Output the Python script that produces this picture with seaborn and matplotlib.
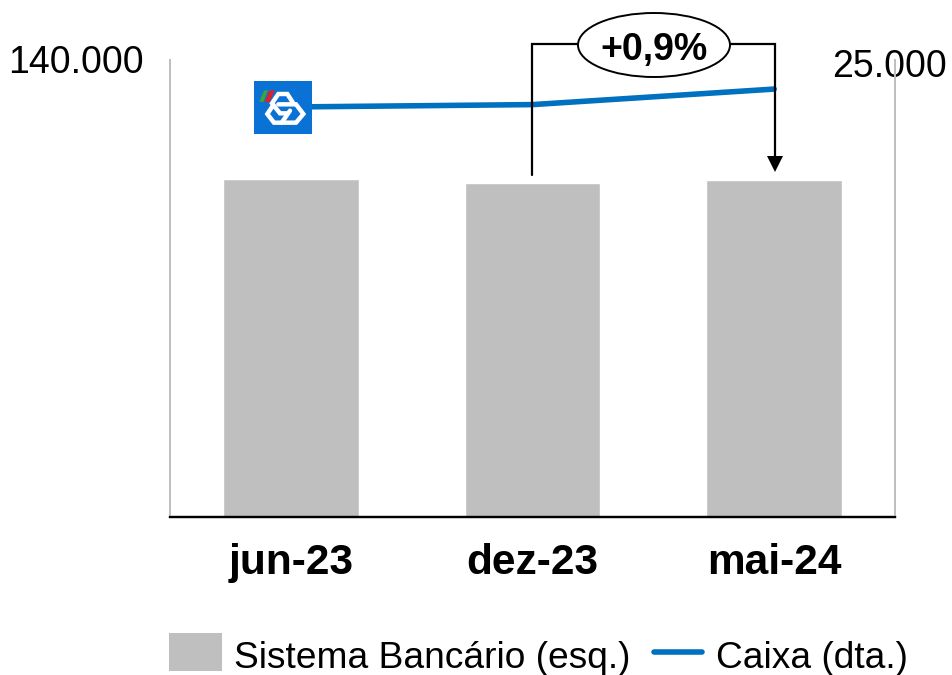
import numpy as np
import pandas as pd
import matplotlib
matplotlib.use('Agg')
import matplotlib.pyplot as plt
from matplotlib.lines import Line2D
from matplotlib.patches import Patch, Rectangle, Ellipse, Polygon
from matplotlib.transforms import Affine2D
import seaborn as sns

categories = ['jun-23', 'dez-23', 'mai-24']
sistema = [103600, 102400, 103200]
caixa = [22430, 22560, 23410]
left_ticks = [140000]
right_ticks = [25000]
left_labels = ['140.000']
right_labels = ['25.000']

W, H = 953, 675
GREY = '#BFBFBF'
BLUE = '#0070C0'

sns.set_style('white')
plt.rcParams['font.family'] = ['Liberation Sans', 'DejaVu Sans']
plt.rcParams['text.color'] = 'black'
plt.rcParams['xtick.color'] = 'black'
plt.rcParams['ytick.color'] = 'black'

fig = plt.figure(figsize=(W / 100, H / 100), dpi=100)
ax = fig.add_axes([170 / W, (H - 517) / H, 725 / W, 457 / H])

df = pd.DataFrame({'cat': categories, 'sistema': sistema})
sns.barplot(data=df, x='cat', y='sistema', color=GREY, saturation=1, width=0.56, ax=ax, zorder=2)
ax.set_xlim(-0.5, 2.5)
ax.set_ylim(0, 140000)
ax.set_xlabel('')
ax.set_ylabel('')
ax.set_yticks(left_ticks)
ax.set_yticklabels(left_labels, fontsize=27)
ax.tick_params(axis='y', length=0, pad=19, labelcolor='black')
ax.tick_params(axis='x', length=0, pad=19, labelcolor='black')
for lab in ax.get_xticklabels():
    lab.set_fontsize(30.5)
    lab.set_fontweight('bold')
for lab in ax.get_yticklabels():
    lab.set_transform(lab.get_transform() + Affine2D().translate(0, 1))

ax2 = ax.twinx()
ax2.set_ylim(0, 25000)
sns.lineplot(x=np.arange(len(categories)), y=caixa, color=BLUE, linewidth=4, ax=ax2,
             solid_capstyle='round', errorbar=None)
ax2.set_xlim(-0.5, 2.5)
ax2.set_ylabel('')
ax2.set_yticks(right_ticks)
ax2.set_yticklabels(right_labels, fontsize=27, va='center')
ax2.tick_params(axis='y', length=0, pad=-45, labelcolor='black')
for lab in ax2.get_yticklabels():
    lab.set_transform(lab.get_transform() + Affine2D().translate(0, -7))

for a in (ax, ax2):
    a.spines['top'].set_visible(False)
    a.spines['left'].set_color(GREY)
    a.spines['right'].set_color(GREY)
    a.spines['left'].set_linewidth(1.4)
    a.spines['right'].set_linewidth(1.4)
    a.spines['bottom'].set_color('black')
    a.spines['bottom'].set_linewidth(1.6)

# everything below is placed in pixels from the top left of the picture
px = Affine2D().scale(1 / W, -1 / H).translate(0, 1) + fig.transFigure

# bracket with the growth label
fig.add_artist(Line2D([532, 532, 775, 775], [175, 44, 44, 160], color='black', lw=1.6,
                      transform=px, zorder=5, solid_joinstyle='miter'))
fig.add_artist(Polygon([[767, 156], [783, 156], [775, 172]], closed=True, fc='black', ec='none',
                       transform=px, zorder=5))
fig.add_artist(Ellipse((654, 45), 152, 64, fc='white', ec='black', lw=1.4, transform=px, zorder=6))
fig.text(654.5, 50, '+0,9%', fontsize=27, fontweight='bold', color='black', ha='center', va='center', zorder=7)
fig.texts[-1].set_transform(px)

# logo
fig.add_artist(Rectangle((254, 81), 58, 53, fc='#0A72D4', ec='none', transform=px, zorder=5))


def zp(pts):
    return [[240 + x / 3, 70 + y / 3] for x, y in pts]


fig.add_artist(Polygon(zp([[58, 95], [72, 62], [84, 60], [70, 96]]), fc='#3FA535', ec='none',
                       transform=px, zorder=6))
fig.add_artist(Polygon(zp([[74, 95], [88, 62], [105, 60], [88, 98]]), fc='#D8232A', ec='none',
                       transform=px, zorder=6))
strokes = [
    [[160, 100], [142, 72], [115, 72], [96, 100], [120, 130], [140, 130]],
    [[115, 103], [168, 103], [190, 132], [168, 158], [125, 158]],
    [[100, 105], [82, 132], [102, 158], [125, 158], [150, 122]],
]
for s in strokes:
    p = np.array(zp(s))
    fig.add_artist(Line2D(p[:, 0], p[:, 1], color='white', lw=3.2, transform=px, zorder=6,
                          solid_joinstyle='miter'))

handles = [Patch(fc=GREY, ec='none', label='Sistema Bancário (esq.)'),
           Line2D([0], [0], color=BLUE, lw=4, solid_capstyle='round', label='Caixa (dta.)')]
leg = fig.legend(handles=handles, loc='lower left', bbox_to_anchor=(169 / W, (H - 676) / H), ncol=2,
                 frameon=False, fontsize=26.7, handlelength=1.43, handleheight=1.2, handletextpad=0.32,
                 columnspacing=0.57, borderpad=0, borderaxespad=0)
box = leg.get_patches()[0]
box.set_y(box.get_y() + 2.4)
hl = leg.get_lines()[0]
xd = hl.get_xdata()
hl.set_xdata([xd[0] + 2.1, xd[-1] - 2.1])
hl.set_ydata([hl.get_ydata()[0]] * 2)

fig.savefig('out.png', dpi=100)
